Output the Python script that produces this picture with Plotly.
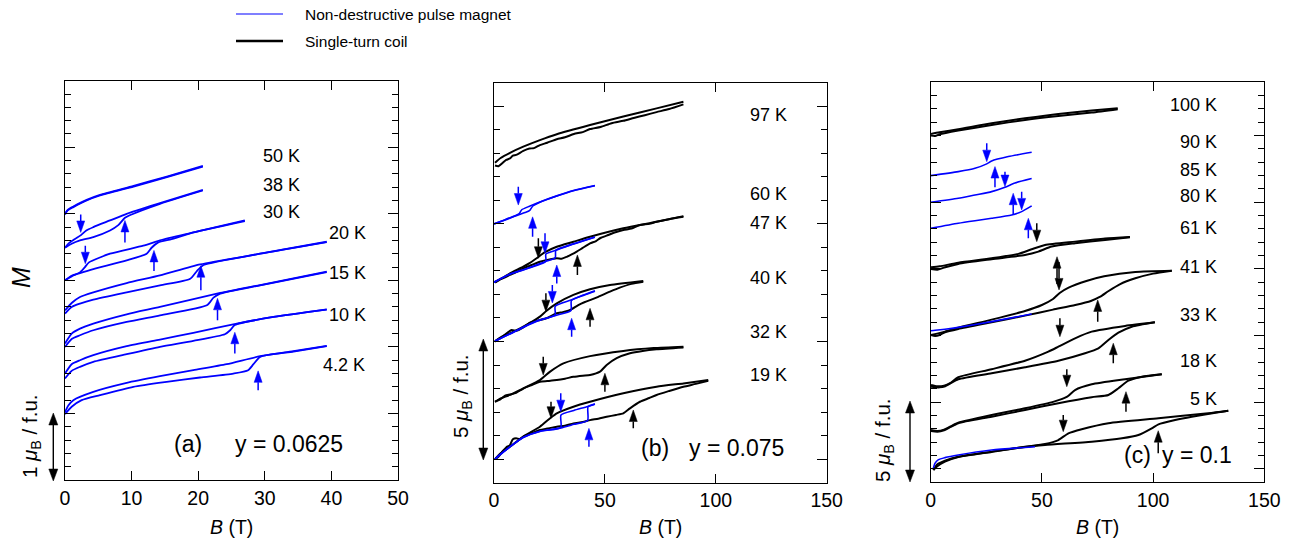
import plotly.graph_objects as go

W, H = 1292, 543
BLUE = "#0000ff"
BLACK = "#000000"
FONT = "Liberation Sans, Arial, Helvetica, sans-serif"

# ---------------- panel (a): y = 0.0625 (B in T, M in offset units, 1 unit = 1 muB) -------------
a50_up = [(0, 3.99), (0.4, 4.05), (1.25, 4.1), (3.25, 4.2), (5.25, 4.275), (10.3, 4.41), (15.3, 4.55), (20.7, 4.71)]
a50_dn = [(0, 4.0), (0.4, 4.06), (1.25, 4.11), (3.25, 4.21), (5.25, 4.285), (10.3, 4.42), (15.3, 4.56), (20.7, 4.72)]
a38_up = [(0, 3.49), (1, 3.55), (2.25, 3.6), (4.25, 3.65), (6.76, 3.75), (8.0, 3.83), (9.0, 3.94), (10, 3.99), (14.26, 4.15), (20.7, 4.35)]
a38_dn = [(0, 3.49), (0.6, 3.56), (1.5, 3.62), (2.4, 3.68), (3.2, 3.75), (4.25, 3.8), (6.76, 3.9), (9.26, 4.0), (14.26, 4.16), (20.7, 4.36)]
a30_up = [(0, 3.0), (1, 3.07), (2.25, 3.11), (4.25, 3.17), (9.26, 3.3), (12.26, 3.4), (13.0, 3.49), (14.0, 3.57), (16, 3.62), (19.3, 3.72), (27.0, 3.89)]
a30_dn = [(0, 3.0), (1, 3.06), (2.25, 3.12), (3.0, 3.2), (3.6, 3.27), (6.76, 3.4), (11.75, 3.52), (14.26, 3.6), (19.3, 3.72), (27.0, 3.9)]
a20_up = [(0, 2.5), (1, 2.6), (2.25, 2.65), (4.25, 2.71), (9.26, 2.82), (14.26, 2.925), (18.8, 3.025), (19.8, 3.14), (20.8, 3.23), (29.3, 3.4), (39.3, 3.575)]
a20_dn = [(0, 2.55), (1, 2.66), (2.25, 2.75), (4.25, 2.82), (9.26, 2.96), (14.26, 3.075), (20.3, 3.24), (29.3, 3.4), (39.3, 3.58)]
a15_up = [(0, 2.0), (1, 2.12), (2.25, 2.175), (4.25, 2.25), (9.26, 2.375), (14.26, 2.475), (21.3, 2.625), (22.3, 2.74), (23.3, 2.8), (29.3, 2.925), (39.3, 3.125)]
a15_dn = [(0, 2.05), (1, 2.2), (2.25, 2.275), (4.25, 2.35), (9.26, 2.49), (14.26, 2.6), (23.3, 2.81), (29.3, 2.93), (39.3, 3.13)]
a10_up = [(0, 1.525), (1, 1.64), (2.25, 1.7), (4.25, 1.775), (9.26, 1.89), (14.26, 2.0), (19.27, 2.09), (24.0, 2.19), (24.8, 2.25), (25.5, 2.33), (31.3, 2.45), (39.3, 2.56)]
a10_dn = [(0, 1.6), (1, 1.74), (2.25, 1.8), (4.25, 1.875), (9.26, 2.01), (14.26, 2.11), (19.27, 2.21), (25.8, 2.35), (31.3, 2.45), (39.3, 2.565)]
a4_up = [(0, 0.99), (1, 1.1), (2.5, 1.2), (5.25, 1.275), (10.26, 1.4), (15.26, 1.475), (20.27, 1.54), (25.27, 1.6), (27.5, 1.65), (28.3, 1.74), (29.3, 1.85), (34.3, 1.93), (39.3, 2.01)]
a4_dn = [(0, 1.02), (0.5, 1.12), (1.25, 1.2), (4.25, 1.325), (9.26, 1.46), (14.26, 1.56), (19.27, 1.65), (24.27, 1.74), (29.3, 1.86), (34.3, 1.935), (39.3, 2.015)]

# ---------------- panel (b): y = 0.075 -------------
b97_dn = [(0.45, 12.6), (3, 12.8), (7.2, 13.02), (13.2, 13.28), (20.7, 13.56), (28.3, 13.81), (43.3, 14.2), (58.3, 14.56), (73.3, 14.91), (85.4, 15.19)]
b97_up = [(0.45, 12.48), (2, 12.45), (4, 12.6), (5.5, 12.72), (7.2, 12.78), (8.5, 12.9), (10, 12.93), (13.2, 13.1), (16, 13.2), (18, 13.22),
          (20.7, 13.35), (24, 13.45), (28.3, 13.6), (32, 13.68), (36, 13.82), (40, 13.9), (43.3, 14.03), (48, 14.12), (53, 14.28),
          (58.3, 14.38), (63, 14.5), (68, 14.62), (73.3, 14.75), (79, 14.88), (85.4, 15.08)]
b60_up = [(0, 10.0), (5, 10.17), (10, 10.35), (14, 10.48), (16, 10.56), (17.5, 10.76), (20.7, 10.92), (28.3, 11.18), (35.8, 11.41), (45.5, 11.62)]
b60_dn = [(0, 10.0), (5, 10.18), (10, 10.37), (11.5, 10.45), (12.5, 10.6), (16, 10.75), (20.7, 10.93), (28.3, 11.19), (35.8, 11.42), (45.5, 11.63)]
b47_dn = [(0.45, 7.54), (4, 7.72), (7.2, 7.9), (13.2, 8.18), (16, 8.33), (19.2, 8.54), (23, 8.8), (28.3, 9.03), (35.8, 9.24), (43.3, 9.45), (58.3, 9.81), (73.3, 10.09), (85.4, 10.33)]
b47_up = [(0.45, 7.5), (3, 7.65), (5, 7.73), (7.2, 7.83), (10, 7.95), (13.2, 8.11), (17, 8.25), (20.7, 8.39), (24, 8.47), (28.3, 8.54),
          (30.5, 8.52), (32.8, 8.6), (35, 8.7), (37.3, 8.82), (40, 8.98), (43.3, 9.17), (46, 9.27), (48, 9.4), (50.8, 9.5),
          (54, 9.62), (58.3, 9.74), (62, 9.8), (65.8, 9.95), (70, 10.0), (73.3, 10.09), (79, 10.2), (85.4, 10.3)]
b47_blue_up = [(0, 7.52), (7.2, 7.86), (13.2, 8.04), (22.9, 8.39), (27.6, 8.56), (27.9, 8.88), (35.8, 9.14), (45.5, 9.43)]
b47_blue_dn = [(45.5, 9.44), (35.8, 9.15), (28.3, 8.89), (23.4, 8.72), (23.3, 8.4), (13.2, 8.05), (7.2, 7.87), (0, 7.52)]
b40_dn = [(0.45, 5.02), (3, 5.18), (7.2, 5.35), (13.2, 5.63), (20.7, 6.06), (23.7, 6.31), (28.3, 6.62), (35.8, 6.98), (43.3, 7.22), (52.3, 7.4), (67.3, 7.57)]
b40_up = [(0.45, 5.0), (3, 5.15), (5, 5.3), (7.97, 5.49), (10, 5.45), (13.2, 5.6), (16.2, 5.8), (20, 5.9), (24, 6.0), (28.3, 6.2),
          (31, 6.25), (34.3, 6.34), (38, 6.55), (41, 6.68), (43.3, 6.76), (47, 6.9), (52.3, 7.12), (57, 7.3), (62, 7.45), (67.3, 7.54)]
b40_blue_up = [(0.45, 5.02), (7.2, 5.32), (13.2, 5.6), (20, 5.88), (27.5, 6.1), (34.7, 6.32), (34.9, 6.74), (40.3, 6.96), (45.5, 7.14)]
b40_blue_dn = [(45.5, 7.16), (40.3, 6.98), (34.7, 6.76), (27.6, 6.5), (27.5, 6.13), (20, 5.9), (13.2, 5.62), (7.2, 5.33), (0.45, 5.02)]
b32_dn = [(0.45, 2.44), (3, 2.58), (7.2, 2.73), (13.2, 3.01), (20.7, 3.36), (25.3, 3.72), (31.3, 4.07), (43.3, 4.38), (58.3, 4.6), (72, 4.72), (85.4, 4.78)]
b32_up = [(0.45, 2.44), (3, 2.55), (5, 2.7), (7.2, 2.75), (10, 2.82), (13.2, 3.0), (17, 3.15), (20.7, 3.29), (24, 3.32), (28.3, 3.36),
          (32, 3.42), (35.8, 3.5), (40, 3.55), (43.3, 3.58), (47.8, 3.72), (50.8, 4.0), (55.3, 4.29), (61.3, 4.5), (67, 4.6), (73.3, 4.67), (85.4, 4.75)]
b19_dn = [(0.45, 0.0), (3, 0.25), (7.2, 0.53), (13.2, 0.96), (20.7, 1.38), (25.3, 1.74), (28.3, 1.95), (35.8, 2.23), (43.3, 2.44), (58.3, 2.8), (73.3, 3.08), (85.4, 3.22), (96.6, 3.36)]
b19_up = [(0.45, 0.0), (2, 0.1), (4, 0.35), (5.5, 0.5), (7.2, 0.6), (8.5, 0.85), (10, 0.89), (11.5, 0.85), (13.2, 0.96), (17, 1.1),
          (20.7, 1.24), (24, 1.3), (28.3, 1.38), (32, 1.42), (35.8, 1.52), (40, 1.58), (43.3, 1.66), (47, 1.72), (50.8, 1.8),
          (55, 1.88), (58.3, 1.95), (61.3, 2.16), (65.8, 2.44), (70, 2.6), (73.3, 2.73), (79, 2.9), (85.4, 3.08), (91, 3.2), (96.6, 3.33)]
b19_blue_up = [(0.45, 0.0), (3, 0.22), (7.2, 0.52), (13.2, 0.92), (20.7, 1.18), (30.1, 1.33), (36, 1.48), (42.2, 1.64), (42.4, 2.23), (45.5, 2.34)]
b19_blue_dn = [(45.5, 2.35), (42.2, 2.24), (36, 2.07), (30.2, 1.88), (30.1, 1.34), (20.7, 1.19), (13.2, 0.93), (7.2, 0.53), (0.45, 0.0)]

# ---------------- panel (c): y = 0.1 -------------
c100_dn = [(0.14, 25.13), (4, 25.25), (12.4, 25.48), (27.4, 25.93), (42.4, 26.3), (57.4, 26.63), (72.4, 26.88), (84.1, 27.06)]
c100_up = [(0.14, 25.0), (2, 24.98), (4, 25.1), (12.4, 25.38), (27.4, 25.8), (42.4, 26.18), (57.4, 26.48), (72.4, 26.73), (84.1, 26.98)]
c90_blue = [(0, 22.0), (12.4, 22.3), (19.9, 22.55), (25.2, 22.88), (27.4, 23.1), (34.9, 23.43), (45.4, 23.75)]
c85_blue = [(0, 20.0), (12.4, 20.3), (19.9, 20.55), (27.4, 20.8), (33.4, 21.13), (37.9, 21.45), (45.4, 21.78)]
c80_blue = [(0, 18.05), (12.4, 18.43), (19.9, 18.62), (27.4, 18.8), (36.4, 19.05), (40.9, 19.3), (45.4, 19.73)]
c61_dn = [(0.14, 15.13), (4, 15.2), (12.4, 15.47), (27.4, 15.8), (39.4, 16.13), (45.4, 16.48), (51.4, 16.8), (64.9, 17.05), (78.4, 17.28), (89.6, 17.4)]
c61_up = [(0.14, 15.0), (3, 14.95), (6, 15.1), (12.4, 15.38), (27.4, 15.73), (42.4, 16.05), (48.4, 16.3), (54.4, 16.68), (64.9, 16.93), (78.4, 17.18), (89.6, 17.38)]
c41_up = [(0.14, 10.05), (2, 9.98), (4, 10.05), (6.4, 10.25), (12.4, 10.5), (27.4, 11.0), (42.4, 11.5), (55, 11.95), (65, 12.3), (72, 12.6),
          (76, 12.9), (80, 13.35), (85, 13.85), (92, 14.3), (100, 14.65), (108.4, 14.87)]
c41_dn = [(0.14, 10.05), (6.4, 10.3), (12.4, 10.6), (27.4, 11.2), (42.4, 11.85), (50, 12.3), (55, 12.75), (58, 13.2), (62, 13.6), (70, 14.1), (78, 14.45), (92, 14.78), (108.4, 14.87)]
c41_blue = [(0, 10.37), (2, 10.4), (6.4, 10.48), (12.4, 10.62), (27.4, 11.05), (45.4, 11.62)]
c33_dn = [(0.14, 6.3), (3, 6.2), (6, 6.25), (8.7, 6.43), (12.4, 6.88), (27.4, 7.48), (42.4, 8.12), (52.9, 8.8), (57.4, 9.17), (64.9, 9.8), (72.4, 10.3), (87.4, 10.73), (100.8, 11.0)]
c33_up = [(0.14, 6.17), (4, 6.12), (6.5, 6.2), (8.7, 6.4), (12.4, 6.73), (27.4, 7.18), (42.4, 7.63), (57.4, 8.12), (69.4, 8.68), (75.4, 9.05), (79.9, 9.67), (84.4, 10.22), (90.4, 10.67), (100.8, 11.0)]
c18_dn = [(0.14, 2.92), (3, 2.85), (6, 2.95), (9, 3.2), (12.4, 3.47), (27.4, 4.05), (42.4, 4.55), (55.4, 5.05), (61.4, 5.42), (64.9, 5.92), (72.4, 6.35), (87.4, 6.73), (103.9, 7.1)]
c18_up = [(0.14, 2.85), (3, 2.8), (6, 2.9), (9, 3.15), (12.4, 3.43), (27.4, 3.92), (42.4, 4.42), (57.4, 4.93), (72.4, 5.38), (79.9, 5.55), (84.4, 6.05), (88.9, 6.62), (94.9, 6.92), (103.9, 7.1)]
c5_dn = [(1.2, -0.08), (3, 0.35), (6.4, 0.62), (12.4, 0.92), (27.4, 1.3), (42.4, 1.67), (51.4, 1.87), (57.4, 2.17), (61.9, 2.67), (67.9, 2.98), (79.9, 3.43), (102.4, 3.8), (124.8, 4.18), (133.8, 4.37)]
c5_up = [(1.2, -0.08), (3, 0.2), (6.4, 0.55), (12.4, 0.9), (27.4, 1.28), (42.4, 1.65), (51.4, 1.8), (72.4, 2.05), (86, 2.3), (93.4, 2.55), (99.4, 3.05), (102.4, 3.35), (109.9, 3.67), (117.4, 3.92), (129.4, 4.25), (133.8, 4.37)]
c5_blue = [(1.2, 0.05), (1.9, 0.42), (3.5, 0.7), (6.4, 0.85), (12.4, 1.05), (27.4, 1.42), (46.9, 1.67)]

CURVES = [
    ("a", BLUE, a50_up), ("a", BLUE, a50_dn), ("a", BLUE, a38_up), ("a", BLUE, a38_dn),
    ("a", BLUE, a30_up), ("a", BLUE, a30_dn), ("a", BLUE, a20_up), ("a", BLUE, a20_dn),
    ("a", BLUE, a15_up), ("a", BLUE, a15_dn), ("a", BLUE, a10_up), ("a", BLUE, a10_dn),
    ("a", BLUE, a4_up), ("a", BLUE, a4_dn),
    ("b", BLACK, b97_dn), ("b", BLACK, b97_up), ("b", BLUE, b60_up), ("b", BLUE, b60_dn),
    ("b", BLACK, b47_dn), ("b", BLACK, b47_up), ("b", BLUE, b47_blue_up), ("b", BLUE, b47_blue_dn),
    ("b", BLACK, b40_dn), ("b", BLACK, b40_up), ("b", BLUE, b40_blue_up), ("b", BLUE, b40_blue_dn),
    ("b", BLACK, b32_dn), ("b", BLACK, b32_up),
    ("b", BLACK, b19_dn), ("b", BLACK, b19_up), ("b", BLUE, b19_blue_up), ("b", BLUE, b19_blue_dn),
    ("c", BLACK, c100_dn), ("c", BLACK, c100_up), ("c", BLUE, c90_blue), ("c", BLUE, c85_blue), ("c", BLUE, c80_blue),
    ("c", BLACK, c61_dn), ("c", BLACK, c61_up), ("c", BLACK, c41_up), ("c", BLACK, c41_dn), ("c", BLUE, c41_blue),
    ("c", BLACK, c33_dn), ("c", BLACK, c33_up), ("c", BLACK, c18_dn), ("c", BLACK, c18_up),
    ("c", BLACK, c5_dn), ("c", BLACK, c5_up), ("c", BLUE, c5_blue),
]

# field-sweep arrows: (panel, B, M_tail, M_tip, colour)
ARROWS = [
    ("a", 2.36, 3.99, 3.72, BLUE), ("a", 9.0, 3.57, 3.9, BLUE), ("a", 3.05, 3.52, 3.25, BLUE), ("a", 13.36, 3.14, 3.45, BLUE),
    ("a", 20.4, 2.85, 3.22, BLUE), ("a", 22.9, 2.4, 2.73, BLUE), ("a", 25.5, 1.9, 2.22, BLUE), ("a", 29.0, 1.35, 1.64, BLUE),
    ("b", 10.96, 11.58, 10.8, BLUE), ("b", 17.4, 9.45, 10.3, BLUE), ("b", 20.0, 9.39, 8.54, BLACK), ("b", 23.0, 9.6, 8.75, BLUE),
    ("b", 28.3, 7.47, 8.25, BLUE), ("b", 37.6, 7.83, 8.68, BLACK),
    ("b", 23.4, 7.05, 6.27, BLACK), ("b", 26.3, 7.4, 6.64, BLUE), ("b", 35.0, 5.2, 5.99, BLUE), ("b", 43.3, 5.63, 6.41, BLACK),
    ("b", 22.2, 4.35, 3.58, BLACK), ("b", 50.0, 2.87, 3.65, BLACK),
    ("b", 25.7, 2.44, 1.74, BLACK), ("b", 30.1, 2.8, 2.02, BLUE), ("b", 42.8, 0.53, 1.31, BLUE), ("b", 62.8, 1.31, 2.09, BLACK),
    ("c", 25.2, 24.43, 23.05, BLUE), ("c", 28.9, 21.13, 22.68, BLUE), ("c", 33.4, 22.3, 21.18, BLUE), ("c", 37.1, 19.05, 20.68, BLUE),
    ("c", 40.9, 20.8, 19.43, BLUE), ("c", 43.9, 17.3, 18.8, BLUE), ("c", 47.7, 18.43, 17.05, BLACK),
    ("c", 56.8, 13.88, 15.92, BLACK), ("c", 57.7, 15.53, 13.43, BLACK), ("c", 75.1, 11.05, 12.68, BLACK),
    ("c", 58.1, 11.3, 9.92, BLACK), ("c", 82.1, 7.93, 9.43, BLACK), ("c", 61.2, 7.48, 6.17, BLACK), ("c", 87.8, 4.3, 5.8, BLACK),
    ("c", 59.6, 4.05, 2.8, BLACK), ("c", 102.3, 1.18, 2.87, BLACK),
]

# temperature labels: (text, right edge px, centre y px)
TEMP_LABELS = [
    ("50 K", 302, 156), ("38 K", 302, 185), ("30 K", 302, 212), ("20 K", 368, 233), ("15 K", 368, 273), ("10 K", 368, 315), ("4.2 K", 367, 365),
    ("97 K", 789, 115), ("60 K", 789, 194), ("47 K", 789, 223), ("40 K", 789, 278), ("32 K", 789, 332), ("19 K", 789, 375),
    ("100 K", 1219, 105), ("90 K", 1219, 142), ("85 K", 1219, 170), ("80 K", 1219, 196), ("61 K", 1219, 228),
    ("41 K", 1219, 267), ("33 K", 1219, 315), ("18 K", 1219, 361), ("5 K", 1219, 399),
]
PANEL_TAGS = [("(a)", 188, 444, "center"), ("y = 0.0625", 233, 444, "left"),
              ("(b)", 639, 448, "left"), ("y = 0.075", 687, 448, "left"),
              ("(c)", 1122, 455, "left"), ("y = 0.1", 1160, 455, "left")]
LEGEND = [("Non-destructive pulse magnet", BLUE, 1.2, 14), ("Single-turn coil", BLACK, 2.6, 41)]

PANELS = {
    "a": dict(x0=65, x1=398, y0=80.7, y1=480, xr=(0, 50), yr=(0, 6), xt=[0, 10, 20, 30, 40, 50], ymaj=1, ymin=0.2, ax=("x", "y")),
    "b": dict(x0=494, x1=826.7, y0=82.7, y1=482.7, xr=(0, 150), yr=(-1, 16), xt=[0, 50, 100, 150], ymaj=5, ymin=1, ax=("x2", "y2")),
    "c": dict(x0=930.7, x1=1264.3, y0=82.3, y1=482.3, xr=(0, 150), yr=(-1, 29), xt=[0, 50, 100, 150], ymaj=5, ymin=1, ax=("x3", "y3")),
}

fig = go.Figure()
for key, color, pts in CURVES:
    xa, ya = PANELS[key]["ax"]
    lw = (1.8 if key == "a" else 1.6) if color == BLUE else 2.0
    fig.add_trace(go.Scatter(
        x=[p[0] for p in pts], y=[p[1] for p in pts], mode="lines",
        line=dict(color=color, width=lw, shape="spline", smoothing=0.6),
        xaxis=xa, yaxis=ya, showlegend=False, hoverinfo="skip"))

layout = dict(width=W, height=H, margin=dict(l=0, r=0, t=0, b=0, pad=0, autoexpand=False),
              plot_bgcolor="white", paper_bgcolor="white",
              font=dict(family=FONT, color="black"), showlegend=False)
for i, key in enumerate(["a", "b", "c"]):
    p = PANELS[key]
    sfx = "" if i == 0 else str(i + 1)
    layout["xaxis" + sfx] = dict(domain=[p["x0"] / W, p["x1"] / W], range=list(p["xr"]), tickvals=p["xt"],
                                 ticks="inside", ticklen=9, tickwidth=1.1, tickcolor="black", showline=True,
                                 linecolor="black", linewidth=1.3, mirror="ticks", showgrid=False, zeroline=False,
                                 tickfont=dict(size=19.5, family=FONT, color="black"), anchor="y" + sfx, fixedrange=True,
                                 automargin=False)
    layout["yaxis" + sfx] = dict(domain=[1 - p["y1"] / H, 1 - p["y0"] / H], range=list(p["yr"]), tick0=0, dtick=p["ymaj"],
                                 ticks="inside", ticklen=10, tickwidth=1.1, tickcolor="black", showticklabels=False,
                                 showline=True, linecolor="black", linewidth=1.3, mirror="ticks", showgrid=False,
                                 zeroline=False, anchor="x" + sfx, fixedrange=True, automargin=False,
                                 minor=dict(dtick=p["ymin"], tick0=0, ticks="inside", ticklen=6, tickwidth=1.1,
                                            tickcolor="black", showgrid=False))
fig.update_layout(**layout)

shapes = []
annotations = []


def add_arrow(key, B, m_tail, m_tip, color, head_len=11.5, head_hw=4.0, width=1.5):
    p = PANELS[key]
    xa, ya = p["ax"]
    sx = (p["x1"] - p["x0"]) / (p["xr"][1] - p["xr"][0])
    sy = (p["y1"] - p["y0"]) / (p["yr"][1] - p["yr"][0])
    d = 1 if m_tip > m_tail else -1
    base = m_tip - d * head_len / sy
    hw = head_hw / sx
    shapes.append(dict(type="line", x0=B, x1=B, y0=m_tail, y1=base, xref=xa, yref=ya, line=dict(color=color, width=width)))
    shapes.append(dict(type="path", path=f"M {B - hw},{base} L {B + hw},{base} L {B},{m_tip} Z", xref=xa, yref=ya,
                       fillcolor=color, line=dict(color=color, width=0.5)))


for key, B, mt, mp, col in ARROWS:
    add_arrow(key, B, mt, mp, col)


def add_scalebar(xpx, ytop, ybot, head_len=12, head_hw=4.5):
    x = xpx / W
    yt, yb = 1 - ytop / H, 1 - ybot / H
    hl = head_len / H
    hw = head_hw / W
    shapes.append(dict(type="line", xref="paper", yref="paper", x0=x, x1=x, y0=yt - hl, y1=yb + hl, line=dict(color="black", width=1.4)))
    shapes.append(dict(type="path", xref="paper", yref="paper", path=f"M {x - hw},{yt - hl} L {x + hw},{yt - hl} L {x},{yt} Z",
                       fillcolor="black", line=dict(color="black", width=0.5)))
    shapes.append(dict(type="path", xref="paper", yref="paper", path=f"M {x - hw},{yb + hl} L {x + hw},{yb + hl} L {x},{yb} Z",
                       fillcolor="black", line=dict(color="black", width=0.5)))


add_scalebar(53.3, 413, 481)
add_scalebar(483.3, 339, 460)
add_scalebar(910, 401, 482)

for text, xr_, yc in TEMP_LABELS:
    annotations.append(dict(text=text, x=xr_ / W, y=1 - yc / H, xref="paper", yref="paper", xanchor="right", yanchor="middle",
                            showarrow=False, font=dict(size=18, family=FONT, color="black")))
for text, x_, yc, anc in PANEL_TAGS:
    annotations.append(dict(text=text, x=x_ / W, y=1 - yc / H, xref="paper", yref="paper", xanchor=anc, yanchor="middle",
                            showarrow=False, font=dict(size=23, family=FONT, color="black")))

# axis titles
for xc in [(65 + 398) / 2, (494 + 826.7) / 2, (930.7 + 1264.3) / 2]:
    annotations.append(dict(text="<i>B</i> (T)", x=xc / W, y=1 - 527 / H, xref="paper", yref="paper", xanchor="center",
                            yanchor="middle", showarrow=False, font=dict(size=19.5, family=FONT, color="black")))
annotations.append(dict(text="<i>M</i>", x=21 / W, y=1 - 278 / H, xref="paper", yref="paper", textangle=-90,
                        xanchor="center", yanchor="middle", showarrow=False, font=dict(size=25, family=FONT, color="black")))
for text, xc, yc in [("1 <i>μ</i><sub>B</sub> / f.u.", 31, 436), ("5 <i>μ</i><sub>B</sub> / f.u.", 462, 396),
                     ("5 <i>μ</i><sub>B</sub> / f.u.", 884, 440)]:
    annotations.append(dict(text=text, x=xc / W, y=1 - yc / H, xref="paper", yref="paper", textangle=-90,
                            xanchor="center", yanchor="middle", showarrow=False, font=dict(size=20.5, family=FONT, color="black")))

# legend
for text, col, lw, yc in LEGEND:
    shapes.append(dict(type="line", xref="paper", yref="paper", x0=236 / W, x1=283 / W, y0=1 - yc / H, y1=1 - yc / H,
                       line=dict(color=col, width=lw)))
    annotations.append(dict(text=text, x=303 / W, y=1 - yc / H, xref="paper", yref="paper", xanchor="left", yanchor="middle",
                            showarrow=False, font=dict(size=15.5, family=FONT, color="black")))

fig.update_layout(shapes=shapes, annotations=annotations)
fig.write_html("out.html", config={"displayModeBar": False, "responsive": False},
               post_script="document.body.style.margin='0';document.body.style.padding='0';document.body.style.overflow='hidden';")
